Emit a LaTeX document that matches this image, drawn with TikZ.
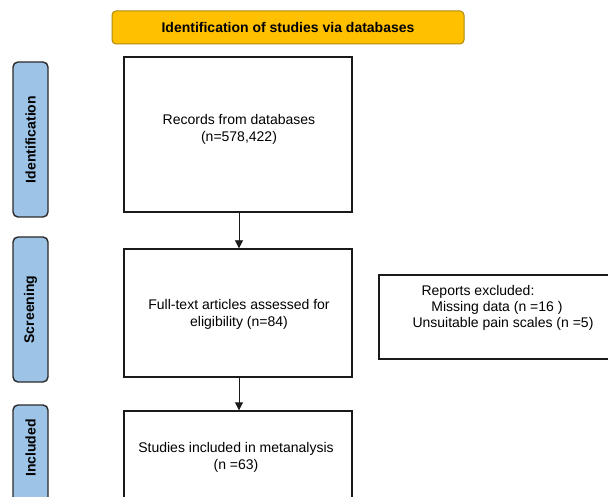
\documentclass[tikz,border=0pt]{standalone}
\usepackage{fontspec}
\setmainfont{Liberation Sans}
\usetikzlibrary{arrows.meta}
\definecolor{bannerfill}{HTML}{FFC000}
\definecolor{bannerdraw}{HTML}{B08A10}
\definecolor{labelfill}{HTML}{9DC3E6}
\definecolor{labeldraw}{HTML}{2A2A2A}
\definecolor{boxdraw}{HTML}{1A1A1A}
\tikzset{
  stagebox/.style={draw=boxdraw, line width=1.4pt, fill=white, inner sep=0pt},
  stagetext/.style={font=\fontsize{14}{17}\selectfont, align=center, inner sep=0pt},
  sidelabel/.style={draw=labeldraw, line width=1.4pt, fill=labelfill, rounded corners=5pt, inner sep=0pt, minimum width=35pt},
  sidetext/.style={font=\fontsize{14}{17}\selectfont\bfseries, rotate=90, inner sep=0pt},
  banner/.style={draw=bannerdraw, line width=1pt, fill=bannerfill, rounded corners=4pt, inner sep=0pt, font=\fontsize{14}{17}\selectfont\bfseries},
  flow/.style={line width=0.9pt, draw=boxdraw, -{Triangle[length=8pt,width=8pt]}}
}
\begin{document}
\begin{tikzpicture}[x=1pt,y=-1pt]
\useasboundingbox (0,0) rectangle (608,497);
\fill[white] (0,0) rectangle (608,497);
% banner
\node[banner, minimum width=352pt, minimum height=33pt] (ban) at (288,27.5) {Identification of studies via databases};
% side labels
\node[sidelabel, minimum height=155pt] (lid) at (30.5,139.5) {};
\node[sidetext] (tid) at (lid.center) {Identification};
\node[sidelabel, minimum height=145pt] (lsc) at (30.5,309.5) {};
\node[sidetext] (tsc) at (lsc.center) {Screening};
\node[sidelabel, minimum height=145pt] (lin) at (30.5,477.5) {};
\node[sidetext] (tin) at (30.5,448) {Included};
% main boxes
\node[stagebox, minimum width=228pt, minimum height=155pt] (b1) at (238,134.5) {};
\node[stagetext] (t1) at (239,129) {Records from databases\\(n=578,422)};
\node[stagebox, minimum width=228pt, minimum height=128pt] (b2) at (238,313) {};
\node[stagetext] (t2) at (239,314) {Full-text articles assessed for\\eligibility (n=84)};
\node[stagebox, minimum width=228pt, minimum height=96pt] (b3) at (238,459) {};
\node[stagetext] (t3) at (236,457) {Studies included in metanalysis\\(n =63)};
% excluded box
\node[stagebox, minimum width=233pt, minimum height=84pt] (ex) at (495.5,317) {};
\node[stagetext] (e1) at (478,292) {Reports excluded:};
\node[stagetext] (e2) at (497,308) {Missing data (n =16 )};
\node[stagetext] (e3) at (503,324) {Unsuitable pain scales (n =5)};
% arrows
\draw[flow] (b1.south -| 239,0) -- (b2.north -| 239,0);
\draw[flow] (b2.south -| 239,0) -- (b3.north -| 239,0);
\end{tikzpicture}
\end{document}
